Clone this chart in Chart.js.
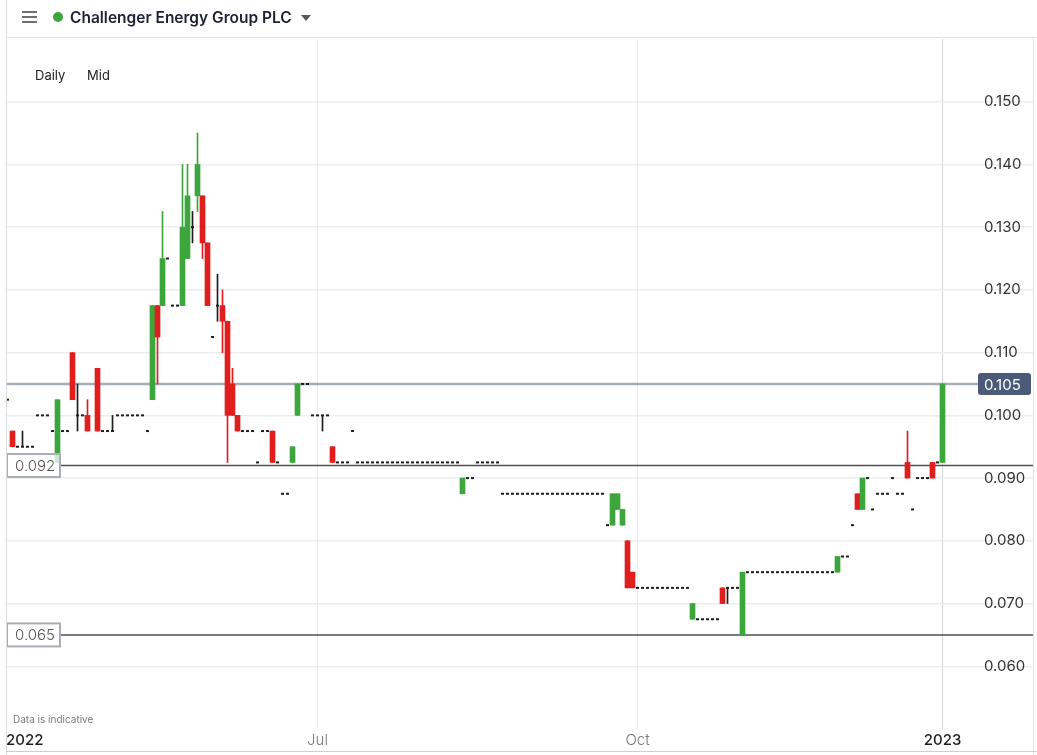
<!DOCTYPE html>
<html>
<head>
<meta charset="utf-8">
<script src="https://cdn.jsdelivr.net/npm/chart.js@4"></script>
<style>
  html, body { margin: 0; padding: 0; background: #fff; }
  body { width: 1037px; height: 755px; position: relative; overflow: hidden; font-family: Inter, "Noto Sans", sans-serif; }
  #chart { position: absolute; left: 0; top: 0; }
  .line { position: absolute; }
  .burger { position: absolute; left: 22px; width: 15px; height: 2px; background: #6d6f73; }
  .dot { position: absolute; left: 53px; top: 12px; width: 10px; height: 10px; border-radius: 50%; background: #3ca63c; }
  .title { position: absolute; left: 70px; top: 0; height: 36px; line-height: 36px; font-size: 15.5px; font-weight: 600; color: #1c2133; }
  .caret { position: absolute; left: 301px; top: 15px; width: 0; height: 0; border-left: 5.5px solid transparent; border-right: 5.5px solid transparent; border-top: 6px solid #55585e; }
  .mode { position: absolute; top: 67px; font-size: 13px; line-height: 16px; color: #222; }
  .note { position: absolute; left: 13px; top: 713px; font-size: 10px; line-height: 13px; color: #7a7a7a; }
</style>
</head>
<body>
<canvas id="chart" width="1037" height="755"></canvas>

<div class="line" style="left:6px;top:0;width:1px;height:755px;background:#d9dde2"></div>
<div class="line" style="left:6px;top:37px;width:1031px;height:1px;background:#dde1e6"></div>
<div class="line" style="left:1033px;top:38px;width:1px;height:717px;background:#e4e4e4"></div>
<div class="line" style="left:6px;top:751px;width:1031px;height:1px;background:#cfcfcf"></div>

<div class="burger" style="top:11px"></div>
<div class="burger" style="top:16px"></div>
<div class="burger" style="top:21px"></div>
<div class="dot"></div>
<div class="title">Challenger Energy Group PLC</div>
<div class="caret"></div>
<div class="mode" style="left:35px">Daily</div>
<div class="mode" style="left:87px">Mid</div>
<div class="note">Data is indicative</div>

<script>
// daily candles, one per trading session (session 1 = first visible)
const open = [
  .1025, .0975, .095, .095, .095, .095, .1, .1, .1, .0975,
  .0925, .0975, .0975, .11, .1, .1, .1, null, .1075, .0975,
  .0975, .0975, .1, .1, .1, .1, .1, .1, .0975, .1025,
  .1175, .1175, .125, .1175, .1175, .1175, .125, .13, .135, .135,
  .1275, .1125, .1175, .1175, .115, .105, .1, .0975, .0975, .0975,
  .0925, .0975, .0975, .0975, .0925, .0875, .0875, .0925, .1, .105,
  .105, .1, .1, .1, .1, .095, .0925, .0925, .0925, .0975,
  .0925, .0925, .0925, .0925, .0925, .0925, .0925, .0925, .0925, .0925,
  .0925, .0925, .0925, .0925, .0925, .0925, .0925, .0925, .0925, .0925,
  .0925, .0875, .09, .09, .0925, .0925, .0925, .0925, .0925, .0875,
  .0875, .0875, .0875, .0875, .0875, .0875, .0875, .0875, .0875, .0875,
  .0875, .0875, .0875, .0875, .0875, .0875, .0875, .0875, .0875, .0875,
  .0825, .0825, .085, .0825, .08, .075, .0725, .0725, .0725, .0725,
  .0725, .0725, .0725, .0725, .0725, .0725, .0725, .0675, .0675, .0675,
  .0675, .0675, .0675, .0725, .0725, .0725, .0725, .065, .075, .075,
  .075, .075, .075, .075, .075, .075, .075, .075, .075, .075,
  .075, .075, .075, .075, .075, .075, .075, .0775, .0775, .0825,
  .0875, .085, .09, .085, .0875, .0875, .0875, .09, .0875, .0875,
  .0925, .085, .09, .09, .09, .0925, .0925, .0925
];
const high = [
  .1025, .0975, .095, .0975, .095, .095, .1, .1, .1, .0975,
  .1025, .0975, .0975, .11, .105, .1, .1025, null, .1075, .0975,
  .0975, .1, .1, .1, .1, .1, .1, .1, .0975, .1175,
  .1175, .1325, .125, .1175, .1175, .14, .14, .1325, .145, .135,
  .1275, .1125, .1225, .12, .115, .1075, .1, .0975, .0975, .0975,
  .0925, .0975, .0975, .0975, .0925, .0875, .0875, .095, .105, .105,
  .105, .1, .1, .1, .1, .095, .0925, .0925, .0925, .0975,
  .0925, .0925, .0925, .0925, .0925, .0925, .0925, .0925, .0925, .0925,
  .0925, .0925, .0925, .0925, .0925, .0925, .0925, .0925, .0925, .0925,
  .0925, .09, .09, .09, .0925, .0925, .0925, .0925, .0925, .0875,
  .0875, .0875, .0875, .0875, .0875, .0875, .0875, .0875, .0875, .0875,
  .0875, .0875, .0875, .0875, .0875, .0875, .0875, .0875, .0875, .0875,
  .0825, .0875, .0875, .085, .08, .075, .0725, .0725, .0725, .0725,
  .0725, .0725, .0725, .0725, .0725, .0725, .0725, .07, .0675, .0675,
  .0675, .0675, .0675, .0725, .0725, .0725, .0725, .075, .075, .075,
  .075, .075, .075, .075, .075, .075, .075, .075, .075, .075,
  .075, .075, .075, .075, .075, .075, .0775, .0775, .0775, .0825,
  .0875, .09, .09, .085, .0875, .0875, .0875, .09, .0875, .0875,
  .0975, .085, .09, .09, .09, .0925, .0925, .105
];
const low = [
  .1025, .095, .095, .095, .095, .095, .1, .1, .1, .0975,
  .0925, .0975, .0975, .1025, .0975, .1, .0975, null, .0975, .0975,
  .0975, .0975, .1, .1, .1, .1, .1, .1, .0975, .1025,
  .105, .1175, .125, .1175, .1175, .1175, .125, .1275, .1325, .125,
  .1175, .1125, .115, .11, .0925, .1, .0975, .0975, .0975, .0975,
  .0925, .0975, .0975, .0925, .0925, .0875, .0875, .0925, .1, .105,
  .105, .1, .1, .0975, .1, .0925, .0925, .0925, .0925, .0975,
  .0925, .0925, .0925, .0925, .0925, .0925, .0925, .0925, .0925, .0925,
  .0925, .0925, .0925, .0925, .0925, .0925, .0925, .0925, .0925, .0925,
  .0925, .0875, .09, .09, .0925, .0925, .0925, .0925, .0925, .0875,
  .0875, .0875, .0875, .0875, .0875, .0875, .0875, .0875, .0875, .0875,
  .0875, .0875, .0875, .0875, .0875, .0875, .0875, .0875, .0875, .0875,
  .0825, .0825, .085, .0825, .0725, .0725, .0725, .0725, .0725, .0725,
  .0725, .0725, .0725, .0725, .0725, .0725, .0725, .0675, .0675, .0675,
  .0675, .0675, .0675, .07, .07, .0725, .0725, .065, .075, .075,
  .075, .075, .075, .075, .075, .075, .075, .075, .075, .075,
  .075, .075, .075, .075, .075, .075, .075, .0775, .0775, .0825,
  .085, .085, .09, .085, .0875, .0875, .0875, .09, .0875, .0875,
  .09, .085, .09, .09, .09, .09, .0925, .0925
];
const close = [
  .1025, .095, .095, .095, .095, .095, .1, .1, .1, .0975,
  .1025, .0975, .0975, .1025, .1, .1, .0975, null, .0975, .0975,
  .0975, .0975, .1, .1, .1, .1, .1, .1, .0975, .1175,
  .1125, .125, .125, .1175, .1175, .13, .135, .13, .14, .1275,
  .1175, .1125, .1175, .115, .1, .1, .0975, .0975, .0975, .0975,
  .0925, .0975, .0975, .0925, .0925, .0875, .0875, .095, .105, .105,
  .105, .1, .1, .1, .1, .0925, .0925, .0925, .0925, .0975,
  .0925, .0925, .0925, .0925, .0925, .0925, .0925, .0925, .0925, .0925,
  .0925, .0925, .0925, .0925, .0925, .0925, .0925, .0925, .0925, .0925,
  .0925, .09, .09, .09, .0925, .0925, .0925, .0925, .0925, .0875,
  .0875, .0875, .0875, .0875, .0875, .0875, .0875, .0875, .0875, .0875,
  .0875, .0875, .0875, .0875, .0875, .0875, .0875, .0875, .0875, .0875,
  .0825, .0875, .0875, .085, .0725, .0725, .0725, .0725, .0725, .0725,
  .0725, .0725, .0725, .0725, .0725, .0725, .0725, .07, .0675, .0675,
  .0675, .0675, .0675, .07, .0725, .0725, .0725, .075, .075, .075,
  .075, .075, .075, .075, .075, .075, .075, .075, .075, .075,
  .075, .075, .075, .075, .075, .075, .0775, .0775, .0775, .0825,
  .085, .09, .09, .085, .0875, .0875, .0875, .09, .0875, .0875,
  .09, .085, .09, .09, .09, .09, .0925, .105
];

// x axis: sessions, with month / year markers
const axisStart = 0.7;
const axisEnd = 195.1;
const startLabel = '2022';
const tickSessions = [63, 127, 188];
const tickLabels = ['Jul', 'Oct', '2023'];

// price markers
const lastPrice = 0.105;
const markerLevels = [0.092, 0.065];

const upColor = '#3ca63c';
const downColor = '#e01e1e';
const flatColor = '#1e1e1e';

const wicks = [], wickColors = [];
const bodies = [], bodyColors = [];
const dojis = [];
open.forEach((o, i) => {
    if (o === null) return;
    const x = i + 1;
    const c = close[i];
    const col = c > o ? upColor : (c < o ? downColor : flatColor);
    if (high[i] > low[i]) {
        wicks.push({x: x, y: [low[i], high[i]]});
        wickColors.push(col);
    }
    if (c !== o) {
        bodies.push({x: x, y: [o, c]});
        bodyColors.push(col);
    } else {
        dojis.push({x: x, y: o});
    }
});

const xTickValues = [axisStart].concat(tickSessions, [axisEnd]);
const xTickText = [startLabel].concat(tickLabels, ['']);
const xGridColors = ['rgba(0,0,0,0)', '#ededed', '#ededed', '#d4d4d4', 'rgba(0,0,0,0)'];

const levelsPlugin = {
    id: 'levels',
    beforeDatasetsDraw(chart) {
        const {ctx, chartArea, scales: {y}} = chart;
        ctx.save();
        const py = y.getPixelForValue(lastPrice);
        ctx.strokeStyle = '#a4adbb';
        ctx.lineWidth = 2.5;
        ctx.beginPath();
        ctx.moveTo(chartArea.left, py);
        ctx.lineTo(chartArea.right, py);
        ctx.stroke();
        markerLevels.forEach(v => {
            const p = y.getPixelForValue(v);
            ctx.strokeStyle = '#4f4f4f';
            ctx.lineWidth = 1.5;
            ctx.beginPath();
            ctx.moveTo(chartArea.left + 55, p);
            ctx.lineTo(chart.width - 4, p);
            ctx.stroke();
        });
        ctx.restore();
    },
    afterDraw(chart) {
        const {ctx, chartArea, scales: {y}} = chart;
        ctx.save();
        // last price tag
        const py = y.getPixelForValue(lastPrice);
        ctx.fillStyle = '#4b5a78';
        ctx.beginPath();
        ctx.roundRect(chartArea.right, py - 11, 53, 22, 3);
        ctx.fill();
        ctx.fillStyle = '#fff';
        ctx.font = '15px Inter, "Noto Sans", sans-serif';
        ctx.textAlign = 'left';
        ctx.textBaseline = 'middle';
        ctx.fillText(lastPrice.toFixed(3), chartArea.right + 6, py + 1);
        // level tags on the left
        markerLevels.forEach(v => {
            const p = y.getPixelForValue(v);
            ctx.fillStyle = 'rgba(255,255,255,0.75)';
            ctx.fillRect(chartArea.left, p - 12.5, 55, 25);
            ctx.strokeStyle = '#a9adb6';
            ctx.lineWidth = 2;
            ctx.strokeRect(chartArea.left + 1, p - 11.5, 53, 23);
            ctx.fillStyle = '#555';
            ctx.font = '300 15px Inter, "Noto Sans", sans-serif';
            ctx.fillText(v.toFixed(3), chartArea.left + 9, p + 1);
        });
        ctx.restore();
    }
};

new Chart(document.getElementById('chart'), {
    type: 'bar',
    data: {
        datasets: [
            {
                type: 'scatter',
                data: dojis,
                pointStyle: 'line',
                radius: 1.5,
                hoverRadius: 1.5,
                borderWidth: 2,
                borderColor: flatColor,
                backgroundColor: flatColor,
                order: 0
            },
            {
                data: bodies,
                backgroundColor: bodyColors,
                barThickness: 5,
                grouped: false,
                order: 1
            },
            {
                data: wicks,
                backgroundColor: wickColors,
                barThickness: 1,
                grouped: false,
                order: 2
            }
        ]
    },
    options: {
        responsive: false,
        animation: false,
        devicePixelRatio: 1,
        layout: {padding: {left: 6, top: 39, right: 4, bottom: 0}},
        plugins: {legend: {display: false}, tooltip: {enabled: false}},
        scales: {
            x: {
                type: 'linear',
                min: axisStart,
                max: axisEnd,
                offset: false,
                border: {display: false},
                grid: {
                    offset: false,
                    drawTicks: false,
                    lineWidth: 1,
                    color: ctx => xGridColors[ctx.index] || 'rgba(0,0,0,0)'
                },
                afterBuildTicks: s => { s.ticks = xTickValues.map(v => ({value: v})) },
                afterFit: s => { s.height = 26 },
                ticks: {
                    align: 'inner',
                    autoSkip: false,
                    maxRotation: 0,
                    padding: 2,
                    callback: (v, i) => xTickText[i],
                    color: ctx => (ctx.index === 1 || ctx.index === 2) ? '#777' : '#1e1e1e',
                    font: ctx => ({
                        family: 'Inter, "Noto Sans", sans-serif',
                        size: 15,
                        weight: (ctx.index === 1 || ctx.index === 2) ? 300 : 500
                    })
                }
            },
            y: {
                position: 'right',
                min: 0.05,
                max: 0.16,
                border: {display: false},
                afterFit: s => { s.width = 55 },
                grid: {
                    lineWidth: 1.5,
                    tickLength: 55,
                    color: ctx => (ctx.tick && (ctx.tick.value < 0.055 || ctx.tick.value > 0.155)) ? 'rgba(0,0,0,0)' : '#ededed'
                },
                ticks: {
                    stepSize: 0.01,
                    padding: -49,
                    color: '#333',
                    font: {family: 'Inter, "Noto Sans", sans-serif', size: 15},
                    callback: v => (v < 0.055 || v > 0.155) ? '' : v.toFixed(3)
                }
            }
        }
    },
    plugins: [levelsPlugin]
});
</script>
</body>
</html>
